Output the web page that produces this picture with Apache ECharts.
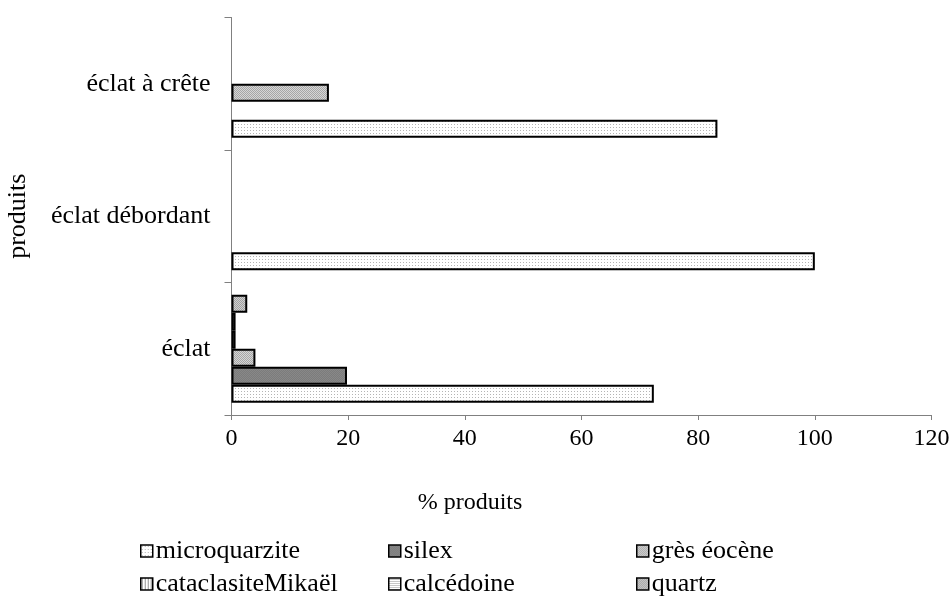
<!DOCTYPE html>
<html>
<head>
<meta charset="utf-8">
<script src="https://cdn.jsdelivr.net/npm/echarts@6/dist/echarts.min.js"></script>
<style>html,body{margin:0;padding:0;background:#fff}#c{width:952px;height:605px}</style>
</head>
<body>
<div id="c"></div>
<script>
const categories = ['éclat', 'éclat débordant', 'éclat à crête'];
const seriesNames = ['microquarzite', 'silex', 'grès éocène', 'cataclasiteMikaël', 'calcédoine', 'quartz'];
const microquarzite = [72.4, 100, 83.3];
const silex = [19.8, null, null];
const gresEocene = [4.1, null, 16.7];
const cataclasite = [0.7, null, null];
const calcedoine = [0.7, null, null];
const quartz = [2.7, null, null];
const xTicks = { min: 0, max: 120, interval: 20 };

function pattern(w, h, draw) {
  const c = document.createElement('canvas');
  c.width = w; c.height = h;
  const g = c.getContext('2d');
  draw(g);
  return { image: c, repeat: 'repeat' };
}
const fills = [
  pattern(3, 3, g => { g.fillStyle = '#fff'; g.fillRect(0,0,3,3); g.fillStyle = '#b4b4b4'; g.fillRect(1,1,1,1); }),
  pattern(2, 2, g => { g.fillStyle = '#7c7c7c'; g.fillRect(0,0,2,2); g.fillStyle = '#888'; g.fillRect(0,0,1,1); g.fillRect(1,1,1,1); }),
  pattern(2, 2, g => { g.fillStyle = '#d6d6d6'; g.fillRect(0,0,2,2); g.fillStyle = '#a6a6a6'; g.fillRect(0,0,1,1); g.fillRect(1,1,1,1); }),
  pattern(3, 1, g => { g.fillStyle = '#fff'; g.fillRect(0,0,3,1); g.fillStyle = '#909090'; g.fillRect(1,0,1,1); }),
  pattern(1, 2, g => { g.fillStyle = '#fff'; g.fillRect(0,0,1,2); g.fillStyle = '#c8c8c8'; g.fillRect(0,1,1,1); }),
  pattern(2, 2, g => { g.fillStyle = '#d0d0d0'; g.fillRect(0,0,2,2); g.fillStyle = '#a0a0a0'; g.fillRect(0,0,1,1); g.fillRect(1,1,1,1); })
];
const values = [microquarzite, silex, gresEocene, cataclasite, calcedoine, quartz];
const font = "'Liberation Serif', 'Times New Roman', serif";
const fs = 26;
const fsTick = 24;

const chart = echarts.init(document.getElementById('c'));
const series = seriesNames.map((n, i) => ({
  name: n, type: 'bar', data: values[i], barWidth: 18, barGap: '0%',
  itemStyle: { color: fills[i], borderColor: '#000', borderWidth: 2 },
  emphasis: { disabled: true }, animation: false
})).reverse();
function legend(left, names) {
  return {
    orient: 'vertical', left: left, top: 538, padding: 0, data: names,
    icon: 'rect', itemWidth: 12, itemHeight: 12, itemGap: 7,
    textStyle: { fontFamily: font, fontSize: fs, color: '#000', lineHeight: 26, padding: [0,0,0,-2] },
    itemStyle: { borderColor: '#000', borderWidth: 1.5 },
    selectedMode: false
  };
}
chart.setOption({
  animation: false,
  grid: { left: 231.5, right: 20.5, top: 17.5, bottom: 190, containLabel: false, outerBoundsMode: 'none' },
  xAxis: {
    type: 'value', min: xTicks.min, max: xTicks.max, interval: xTicks.interval,
    axisLine: { show: true, lineStyle: { color: '#808080', width: 1 } },
    axisTick: { show: true, length: 5, lineStyle: { color: '#808080' } },
    splitLine: { show: false },
    axisLabel: { fontFamily: font, fontSize: fsTick, color: '#000', margin: 12 }
  },
  yAxis: {
    type: 'category', data: categories,
    name: 'produits', nameLocation: 'middle', nameRotate: 90, nameGap: 200,
    nameTextStyle: { fontFamily: font, fontSize: fs, color: '#000' },
    axisLine: { show: true, lineStyle: { color: '#808080', width: 1 } },
    axisTick: { show: true, length: 7, lineStyle: { color: '#808080' } },
    axisLabel: { fontFamily: font, fontSize: fs, color: '#000', margin: 21, padding: [4, 0, 0, 0] }
  },
  legend: [
    legend(140, ['microquarzite', 'cataclasiteMikaël']),
    legend(388, ['silex', 'calcédoine']),
    legend(636, ['grès éocène', 'quartz'])
  ],
  graphic: [{
    type: 'text', x: 470, y: 491,
    style: { text: '% produits', font: fsTick + 'px ' + font, fill: '#000', align: 'center' }
  }],
  series: series
});
</script>
</body>
</html>
